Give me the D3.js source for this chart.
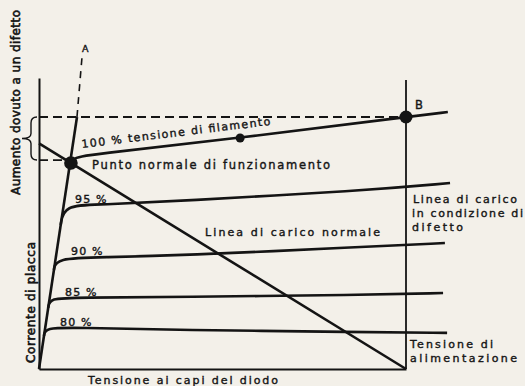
<!DOCTYPE html>
<html>
<head>
<meta charset="utf-8">
<script src="https://cdn.jsdelivr.net/npm/d3@7"></script>
<style>
  body { margin: 0; background: #f3f0e9; }
  svg text { font-family: "DejaVu Sans", sans-serif; font-weight: normal; fill: #161616; stroke: #161616; stroke-width: 0.4px; }
</style>
</head>
<body>
<div id="chart"></div>
<script>
// characteristic curves (x = tensione, y = corrente, arbitrary units 0..100)
var c100 = [[8.2, 68.5], [8.7, 72.4], [13, 73.6], [54.8, 79.4], [100, 86.6], [111.4, 88.3]];
var c95 = [[5.9, 49.5], [6.8, 56.4], [16.6, 56.4], [38.4, 57.8], [87.5, 61.2], [112, 63.9]];
var c90 = [[4.06, 34.0], [4.55, 38.1], [17.5, 38.4], [38.4, 39.0], [87.5, 41.9], [110.6, 43.3]];
var c85 = [[2.5, 21.0], [2.92, 24.4], [10.5, 24.5], [38.4, 24.8], [87.5, 25.4], [110.1, 26.1]];
var c80 = [[1.36, 11.4], [1.7, 14.2], [9.9, 14.2], [38.4, 13.4], [87.5, 12.7], [111.2, 12.4]];
var curveLabels = ["95 %", "90 %", "85 %", "80 %"];

var diodeLine = [[0, 0], [10.35, 86.6]];
var diodeLineExt = [[10.35, 86.6], [11.7, 106.9]];
var loadNormal = [[0, 77.5], [100, 0]];
var faultLine = [[100, 0], [100, 99.3]];
var opPoint = [8.7, 70.8];
var faultPoint = [100, 86.6];
var midPoint = [54.8, 79.4];
var levelFault = 86.6, levelNormal = 71.8;

var width = 525, height = 386;

var svg = d3.select("#chart").append("svg")
    .attr("width", width)
    .attr("height", height);

var x = d3.scaleLinear().domain([0, 100]).range([39, 406]);
var y = d3.scaleLinear().domain([0, 100]).range([369, 78]);

var line = d3.line()
    .x(function (d) { return x(d[0]); })
    .y(function (d) { return y(d[1]); });

var smooth = d3.line()
    .x(function (d) { return x(d[0]); })
    .y(function (d) { return y(d[1]); })
    .curve(d3.curveBasis);

var ink = "#141414";

// axes, no ticks
svg.append("g")
    .attr("transform", "translate(0," + y(0) + ")")
    .call(d3.axisBottom(x).ticks(0).tickSizeOuter(0))
    .call(function (g) { g.select(".domain").attr("stroke", ink).attr("stroke-width", 2); });

svg.append("g")
    .attr("transform", "translate(" + x(0) + ",0)")
    .call(d3.axisLeft(y).ticks(0).tickSizeOuter(0))
    .call(function (g) { g.select(".domain").attr("stroke", ink).attr("stroke-width", 2); });

// dashed levels
svg.append("path")
    .attr("d", line([[0, levelFault], faultPoint]))
    .attr("fill", "none").attr("stroke", ink).attr("stroke-width", 1.8)
    .attr("stroke-dasharray", "9,5");

svg.append("path")
    .attr("d", line([[0, levelNormal], [opPoint[0], levelNormal]]))
    .attr("fill", "none").attr("stroke", ink).attr("stroke-width", 1.8)
    .attr("stroke-dasharray", "9,5");

// vertical fault line
svg.append("path")
    .attr("d", line(faultLine))
    .attr("fill", "none").attr("stroke", ink).attr("stroke-width", 1.8);

// curves
[c100, c95, c90, c85, c80].forEach(function (c) {
    svg.append("path")
        .attr("d", smooth(c))
        .attr("fill", "none").attr("stroke", ink).attr("stroke-width", 2.6);
});

// diode line to A
svg.append("path")
    .attr("d", line(diodeLine))
    .attr("fill", "none").attr("stroke", ink).attr("stroke-width", 2.6);
svg.append("path")
    .attr("d", line(diodeLineExt))
    .attr("fill", "none").attr("stroke", ink).attr("stroke-width", 1.6)
    .attr("stroke-dasharray", "7,6");

// load line
svg.append("path")
    .attr("d", line(loadNormal))
    .attr("fill", "none").attr("stroke", ink).attr("stroke-width", 2.6);

// points
svg.append("circle").attr("cx", x(opPoint[0])).attr("cy", y(opPoint[1])).attr("r", 6.8).attr("fill", ink);
svg.append("circle").attr("cx", x(faultPoint[0])).attr("cy", y(faultPoint[1])).attr("r", 6.5).attr("fill", ink);
svg.append("circle").attr("cx", x(midPoint[0])).attr("cy", y(midPoint[1])).attr("r", 4.5).attr("fill", ink);

// brace
var yt = y(levelFault), yb = y(levelNormal), ym = (yt + yb) / 2;
var xr = 37, xm = 31, xt = 22;
svg.append("path")
    .attr("d", "M" + xr + "," + yt + " Q" + xm + "," + yt + " " + xm + "," + (yt + 6) +
        " L" + xm + "," + (ym - 5) + " Q" + xm + "," + ym + " " + xt + "," + ym +
        " Q" + xm + "," + ym + " " + xm + "," + (ym + 5) +
        " L" + xm + "," + (yb - 6) + " Q" + xm + "," + yb + " " + xr + "," + yb)
    .attr("fill", "none").attr("stroke", ink).attr("stroke-width", 1.4);

// labels
function label(txt, px, py, len, size) {
    var t = svg.append("text")
        .attr("x", px).attr("y", py)
        .style("font-size", size + "px")
        .text(txt);
    if (len) t.attr("textLength", len).attr("lengthAdjust", "spacing");
    return t;
}

label("A", 82, 52, null, 9.5);
label("B", 415, 108.5, null, 11.5);

svg.append("text")
    .attr("transform", "translate(82,148) rotate(-7)")
    .style("font-size", "11px")
    .attr("textLength", 190).attr("lengthAdjust", "spacing")
    .text("100 % tensione di filamento");

label("Punto normale di funzionamento", 92, 168.5, 238, 11.5);

var lblX = [75, 71, 65, 60], lblY = [202.5, 255, 296, 326];
curveLabels.forEach(function (s, i) {
    label(s, lblX[i], lblY[i], 31.5, 11);
});

label("Linea di carico normale", 205, 236, 175, 11);
label("Linea di carico", 413, 203, 104, 11);
label("in condizione di", 412, 217, 111, 11);
label("difetto", 412, 230.5, 51, 11);
label("Tensione di", 410, 348, 83, 11);
label("alimentazione", 410, 362, 107, 11);
label("Tensione ai capi del diodo", 88, 384, 190, 11);

svg.append("text")
    .attr("transform", "translate(20,102.5) rotate(-90)")
    .attr("text-anchor", "middle")
    .style("font-size", "12px")
    .style("stroke-width", "0.6px")
    .attr("textLength", 185).attr("lengthAdjust", "spacing")
    .text("Aumento dovuto a un difetto");

svg.append("text")
    .attr("transform", "translate(35,302.5) rotate(-90)")
    .attr("text-anchor", "middle")
    .style("font-size", "12px")
    .style("stroke-width", "0.6px")
    .attr("textLength", 121).attr("lengthAdjust", "spacing")
    .text("Corrente di placca");
</script>
</body>
</html>
